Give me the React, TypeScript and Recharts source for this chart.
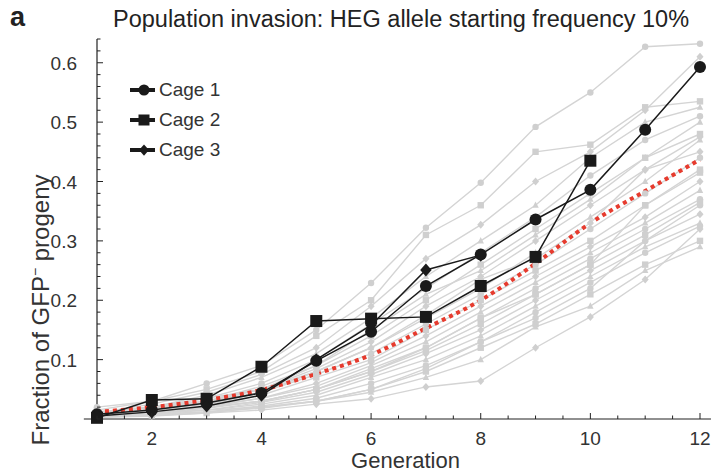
import React from 'react';
import { LineChart, Line, XAxis, YAxis, ReferenceLine } from 'recharts';

const FONT = '"Liberation Sans", Arial, sans-serif';

const GENERATIONS = [1, 2, 3, 4, 5, 6, 7, 8, 9, 10, 11, 12];

// observed cages (null = not measured)
const CAGE_1 = [0.008, 0.015, 0.027, 0.044, 0.098, 0.147, 0.224, 0.277, 0.336, 0.386, 0.487, 0.593];
const CAGE_2 = [0.002, 0.032, 0.034, 0.088, 0.165, 0.169, 0.172, 0.224, 0.273, 0.435, null, null];
const CAGE_3 = [0.005, 0.012, 0.022, 0.04, 0.1, 0.158, 0.251, 0.276, null, null, null, null];

// deterministic model (red dotted)
const MODEL = [0.012, 0.02, 0.032, 0.049, 0.076, 0.108, 0.153, 0.2, 0.262, 0.33, 0.384, 0.437];

// stochastic simulation runs (grey)
const SIMS: number[][] = [
  [0.02, 0.03, 0.06, 0.09, 0.15, 0.229, 0.322, 0.398, 0.492, 0.55, 0.627, 0.632],
  [0.015, 0.03, 0.05, 0.08, 0.14, 0.2, 0.31, 0.36, 0.45, 0.462, 0.525, 0.535],
  [0.01, 0.025, 0.045, 0.075, 0.12, 0.19, 0.27, 0.327, 0.4, 0.45, 0.52, 0.61],
  [0.01, 0.02, 0.04, 0.07, 0.11, 0.17, 0.24, 0.3, 0.36, 0.44, 0.5, 0.525],
  [0.012, 0.02, 0.035, 0.06, 0.1, 0.16, 0.22, 0.28, 0.34, 0.41, 0.47, 0.51],
  [0.01, 0.018, 0.03, 0.055, 0.09, 0.14, 0.2, 0.26, 0.32, 0.38, 0.44, 0.48],
  [0.008, 0.015, 0.03, 0.05, 0.085, 0.13, 0.19, 0.24, 0.3, 0.36, 0.42, 0.475],
  [0.01, 0.02, 0.03, 0.045, 0.08, 0.12, 0.17, 0.22, 0.28, 0.34, 0.4, 0.47],
  [0.005, 0.015, 0.025, 0.045, 0.075, 0.11, 0.16, 0.21, 0.26, 0.32, 0.38, 0.44],
  [0.01, 0.015, 0.025, 0.04, 0.07, 0.1, 0.15, 0.2, 0.25, 0.3, 0.36, 0.415],
  [0.008, 0.012, 0.022, 0.035, 0.06, 0.095, 0.14, 0.19, 0.24, 0.29, 0.34, 0.4],
  [0.005, 0.012, 0.02, 0.035, 0.055, 0.09, 0.13, 0.18, 0.23, 0.28, 0.33, 0.385],
  [0.01, 0.015, 0.02, 0.03, 0.05, 0.085, 0.12, 0.17, 0.22, 0.27, 0.32, 0.37],
  [0.005, 0.01, 0.018, 0.03, 0.05, 0.08, 0.115, 0.16, 0.21, 0.26, 0.31, 0.365],
  [0.008, 0.01, 0.015, 0.028, 0.045, 0.075, 0.11, 0.15, 0.2, 0.25, 0.3, 0.345],
  [0.004, 0.01, 0.015, 0.025, 0.04, 0.07, 0.1, 0.14, 0.19, 0.24, 0.29, 0.33],
  [0.005, 0.008, 0.012, 0.022, 0.035, 0.06, 0.09, 0.13, 0.18, 0.23, 0.28, 0.325],
  [0.003, 0.006, 0.01, 0.02, 0.03, 0.05, 0.08, 0.12, 0.16, 0.21, 0.26, 0.3],
  [0.003, 0.005, 0.01, 0.015, 0.025, 0.034, 0.054, 0.064, 0.12, 0.172, 0.235, 0.32],
  [0.005, 0.01, 0.015, 0.02, 0.03, 0.045, 0.07, 0.1, 0.155, 0.19, 0.25, 0.29],
  [0.004, 0.008, 0.012, 0.018, 0.03, 0.05, 0.085, 0.13, 0.17, 0.22, 0.3, 0.36],
  [0.006, 0.012, 0.02, 0.03, 0.05, 0.08, 0.12, 0.17, 0.21, 0.26, 0.36, 0.42],
  [0.01, 0.02, 0.035, 0.05, 0.08, 0.12, 0.175, 0.235, 0.27, 0.33, 0.42, 0.45],
  [0.012, 0.02, 0.03, 0.05, 0.09, 0.15, 0.21, 0.25, 0.31, 0.37, 0.44, 0.5],
];

const X_TICKS = [1, 1.5, 2, 2.5, 3, 3.5, 4, 4.5, 5, 5.5, 6, 6.5, 7, 7.5, 8, 8.5, 9, 9.5, 10, 10.5, 11, 11.5, 12];
const X_LABELS = [2, 4, 6, 8, 10, 12];
const Y_TICKS = [
  0, 0.02, 0.04, 0.06, 0.08, 0.1, 0.12, 0.14, 0.16, 0.18, 0.2, 0.22, 0.24, 0.26, 0.28, 0.3, 0.32,
  0.34, 0.36, 0.38, 0.4, 0.42, 0.44, 0.46, 0.48, 0.5, 0.52, 0.54, 0.56, 0.58, 0.6, 0.62, 0.64,
];
const Y_LABELS = [0.1, 0.2, 0.3, 0.4, 0.5, 0.6];

const CAGES = [
  { key: 'cage1', name: 'Cage 1', shape: 'circle' },
  { key: 'cage2', name: 'Cage 2', shape: 'square' },
  { key: 'cage3', name: 'Cage 3', shape: 'diamond' },
];
const GREY_SHAPES = ['circle', 'square', 'diamond', 'triangle'];

const data = GENERATIONS.map((gen, i) => {
  const row: Record<string, number | null> = {
    gen,
    cage1: CAGE_1[i],
    cage2: CAGE_2[i],
    cage3: CAGE_3[i],
    model: MODEL[i],
  };
  SIMS.forEach((s, j) => {
    row[`sim${j}`] = s[i];
  });
  return row;
});

const PLOT_LEFT = 97;
const PLOT_BOTTOM = 419;

const Marker = ({ cx, cy, shape, size, fill }: any) => {
  if (cx == null || cy == null) return null;
  if (shape === 'circle') return <circle cx={cx} cy={cy} r={size} fill={fill} />;
  if (shape === 'square')
    return <rect x={cx - size} y={cy - size} width={size * 2} height={size * 2} fill={fill} />;
  if (shape === 'triangle')
    return (
      <polygon
        points={`${cx},${cy - size * 1.2} ${cx + size},${cy + size * 0.8} ${cx - size},${cy + size * 0.8}`}
        fill={fill}
      />
    );
  return (
    <polygon
      points={`${cx},${cy - size * 1.25} ${cx + size * 1.1},${cy} ${cx},${cy + size * 1.25} ${cx - size * 1.1},${cy}`}
      fill={fill}
    />
  );
};

const dotRenderer = (shape: string, size: number, fill: string) => (props: any) => {
  const { cx, cy, index, value } = props;
  const key = `${props.dataKey}-${index}`;
  if (value == null || cx == null || cy == null) return <g key={key} />;
  return (
    <g key={key}>
      <Marker cx={cx} cy={cy} shape={shape} size={size} fill={fill} />
    </g>
  );
};

const near = (list: number[], v: number) => list.some((l) => Math.abs(l - v) < 1e-6);

const XTick = ({ x, payload }: any) => {
  const major = near(X_LABELS, payload.value);
  return (
    <g>
      <line x1={x} x2={x} y1={PLOT_BOTTOM} y2={PLOT_BOTTOM - (major ? 6 : 3.5)} stroke="#222" strokeWidth={1} />
      {major && (
        <text x={x} y={445} textAnchor="middle" fontSize={19} fill="#333" fontFamily={FONT}>
          {payload.value}
        </text>
      )}
    </g>
  );
};

const YTick = ({ y, payload }: any) => {
  const major = near(Y_LABELS, payload.value);
  return (
    <g>
      <line x1={PLOT_LEFT} x2={PLOT_LEFT + (major ? 6 : 3.5)} y1={y} y2={y} stroke="#222" strokeWidth={1} />
      {major && (
        <text x={77} y={y + 7} textAnchor="end" fontSize={19} fill="#333" fontFamily={FONT}>
          {payload.value.toFixed(1)}
        </text>
      )}
    </g>
  );
};

const LegendBox = () => (
  <div style={{ position: 'absolute', left: 128, top: 75, fontFamily: FONT, fontSize: 19, color: '#333' }}>
    {CAGES.map((c, i) => (
      <div key={c.key} style={{ display: 'flex', alignItems: 'center', height: 30 }}>
        <svg width={30} height={16}>
          <line x1={2} x2={27} y1={8} y2={8} stroke="#1a1a1a" strokeWidth={4} />
          <Marker cx={16} cy={8} shape={c.shape} size={i === 2 ? 4.5 : 5.5} fill="#1a1a1a" />
        </svg>
        <span style={{ marginLeft: 1 }}>{c.name}</span>
      </div>
    ))}
  </div>
);

export default function App() {
  return (
    <div style={{ position: 'absolute', left: 0, top: 0, width: 711, height: 474, background: '#fff' }}>
      <LineChart width={711} height={474} data={data} margin={{ top: 39, right: 11, bottom: 0, left: 0 }}>
        <XAxis
          dataKey="gen"
          type="number"
          domain={[1, 12]}
          ticks={X_TICKS}
          interval={0}
          tickLine={false}
          axisLine={false}
          tick={<XTick />}
          height={55}
        />
        <YAxis
          type="number"
          domain={[0, 0.64]}
          ticks={Y_TICKS}
          interval={0}
          tickLine={false}
          axisLine={{ stroke: '#222', strokeWidth: 1.2 }}
          tick={<YTick />}
          width={97}
        />
        <ReferenceLine
          segment={[
            { x: 0.76, y: 0 },
            { x: 12.2, y: 0 },
          ]}
          ifOverflow="visible"
          stroke="#222"
          strokeWidth={1.2}
        />
        {SIMS.map((_, j) => (
          <Line
            key={`sim${j}`}
            dataKey={`sim${j}`}
            stroke="#d4d4d4"
            strokeWidth={1.4}
            isAnimationActive={false}
            dot={dotRenderer(GREY_SHAPES[j % GREY_SHAPES.length], 3.2, '#cfcfcf')}
            activeDot={false}
          />
        ))}
        <Line
          dataKey="model"
          type="monotone"
          stroke="#e63b2e"
          strokeWidth={4}
          strokeDasharray="4 4"
          dot={false}
          activeDot={false}
          isAnimationActive={false}
        />
        {CAGES.map((c, i) => (
          <Line
            key={c.key}
            dataKey={c.key}
            stroke="#1a1a1a"
            strokeWidth={1.5}
            isAnimationActive={false}
            dot={dotRenderer(c.shape, i === 2 ? 5.2 : 6, '#1a1a1a')}
            activeDot={false}
          />
        ))}
      </LineChart>
      <div
        style={{
          position: 'absolute',
          left: 10,
          top: 2,
          fontFamily: FONT,
          fontSize: 27,
          fontWeight: 'bold',
          color: '#222',
          lineHeight: '30px',
        }}
      >
        a
      </div>
      <div
        style={{
          position: 'absolute',
          left: 113,
          top: 5,
          fontFamily: FONT,
          fontSize: 23.5,
          color: '#222',
          lineHeight: '28px',
          whiteSpace: 'nowrap',
        }}
      >
        Population invasion: HEG allele starting frequency 10%
      </div>
      <div
        style={{
          position: 'absolute',
          left: 0,
          width: 811,
          top: 448,
          textAlign: 'center',
          fontFamily: FONT,
          fontSize: 22,
          color: '#333',
          lineHeight: '26px',
        }}
      >
        Generation
      </div>
      <div
        style={{
          position: 'absolute',
          left: 38,
          top: 310,
          transform: 'translate(-50%, -50%) rotate(-90deg)',
          whiteSpace: 'nowrap',
          fontFamily: FONT,
          fontSize: 24,
          color: '#333',
          lineHeight: '28px',
        }}
      >
        Fraction of GFP<sup style={{ fontSize: 14 }}>−</sup> progeny
      </div>
      <LegendBox />
    </div>
  );
}
